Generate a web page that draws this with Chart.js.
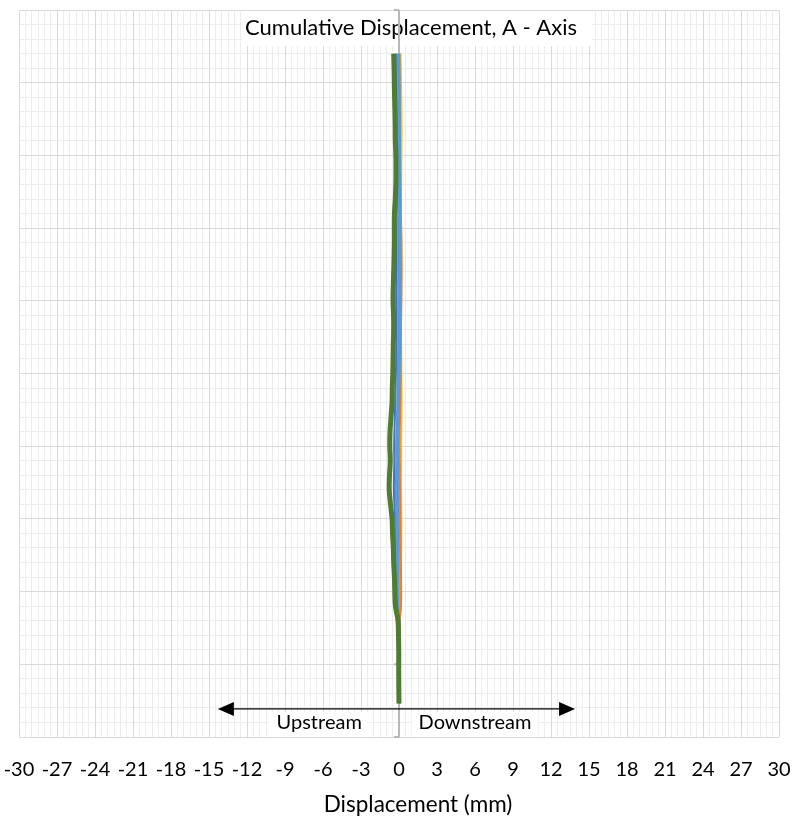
<!DOCTYPE html>
<html>
<head>
<meta charset="utf-8">
<script src="https://cdn.jsdelivr.net/npm/chart.js@4.4.0/dist/chart.umd.min.js"></script>
<style>
  html, body { margin: 0; padding: 0; background: #fff; }
</style>
</head>
<body>
<canvas id="chart" width="801" height="820"></canvas>
<script>
// depth below top of casing (arbitrary units, y axis has no labels)
const DEPTH = [3, 4, 5, 6, 7, 8, 9, 10, 11, 12, 13, 14, 15, 16, 17, 18, 19, 20, 21, 22,
  23, 24, 25, 26, 27, 28, 29, 30, 31, 32, 33, 34, 35, 36, 37, 38, 39, 40, 41, 42,
  43, 44, 45, 46, 47, 47.7];

// cumulative displacement in mm, one array per reading
const READING_GRAY = [0.05, 0.06, 0.07, 0.08, 0.08, 0.09, 0.1, 0.1, 0.11, 0.12,
  0.12, 0.11, 0.1, 0.1, 0.11, 0.12, 0.12, 0.11, 0.1, 0.09,
  0.09, 0.08, 0.07, 0.05, 0.03, 0.01, -0.02, -0.04, -0.03, -0.05,
  -0.06, -0.04, -0.02, 0, 0.02, 0.04, 0.06, 0.08, 0.08, 0.04,
  0.02, 0.01, 0, 0, 0, 0];
const READING_DARKBLUE = [-0.2, -0.18, -0.16, -0.14, -0.12, -0.1, -0.09, -0.08, -0.07, -0.08,
  -0.1, -0.12, -0.14, -0.15, -0.16, -0.18, -0.2, -0.22, -0.2, -0.19,
  -0.2, -0.22, -0.24, -0.27, -0.3, -0.33, -0.36, -0.38, -0.37, -0.39,
  -0.4, -0.36, -0.3, -0.27, -0.24, -0.22, -0.2, -0.18, -0.16, -0.07,
  -0.03, -0.01, -0.01, 0, 0, 0];
const READING_YELLOW = [0.12, 0.14, 0.16, 0.18, 0.19, 0.2, 0.2, 0.19, 0.18, 0.17,
  0.16, 0.16, 0.17, 0.18, 0.18, 0.17, 0.16, 0.15, 0.15, 0.16,
  0.17, 0.18, 0.19, 0.2, 0.2, 0.19, 0.18, 0.17, 0.17, 0.16,
  0.16, 0.17, 0.18, 0.18, 0.17, 0.16, 0.15, 0.14, 0.12, 0.06,
  0.03, 0.01, 0.01, 0, 0, 0];
const READING_ORANGE = [0.02, 0.03, 0.04, 0.05, 0.06, 0.07, 0.08, 0.09, 0.1, 0.11,
  0.13, 0.15, 0.17, 0.19, 0.2, 0.21, 0.2, 0.19, 0.17, 0.16,
  0.15, 0.14, 0.13, 0.12, 0.1, 0.08, 0.06, 0.05, 0.06, 0.07,
  0.08, 0.1, 0.11, 0.12, 0.13, 0.14, 0.16, 0.17, 0.15, 0.06,
  0.02, 0.01, 0.01, 0, 0, 0];
const READING_BLUE = [-0.05, -0.04, -0.03, -0.02, -0.02, -0.01, 0, 0, 0.01, 0.02,
  0.02, 0.01, 0, 0, 0.01, 0.02, 0.02, 0.01, 0, 0,
  0.01, 0, -0.02, -0.04, -0.06, -0.08, -0.12, -0.15, -0.14, -0.16,
  -0.17, -0.15, -0.13, -0.12, -0.12, -0.14, -0.15, -0.14, -0.12, -0.05,
  -0.02, -0.01, -0.01, 0, 0, 0];
const READING_GREEN = [-0.42, -0.39, -0.37, -0.35, -0.32, -0.3, -0.29, -0.25, -0.24, -0.25,
  -0.29, -0.36, -0.37, -0.37, -0.39, -0.42, -0.45, -0.47, -0.43, -0.42,
  -0.45, -0.47, -0.49, -0.53, -0.55, -0.63, -0.71, -0.73, -0.69, -0.75,
  -0.77, -0.67, -0.55, -0.51, -0.45, -0.42, -0.36, -0.33, -0.28, -0.08,
  -0.04, -0.02, -0.02, -0.02, -0.01, 0];

const X_TICKS = [-30, -27, -24, -21, -18, -15, -12, -9, -6, -3, 0, 3, 6, 9, 12, 15, 18, 21, 24, 27, 30];
const TITLE = 'Cumulative Displacement, A - Axis';
const X_TITLE = 'Displacement (mm)';
const X_TITLE_AT = 1.5;
const ARROW_SPAN = [-14.3, 13.9];
const ARROW_DEPTH = 48.07;
const DIRECTION_LABELS = [['Upstream', -6.3], ['Downstream', 6.0]];

const FONT = 'Lato';

const toPoints = vals => vals.map((v, i) => ({ x: v, y: DEPTH[i] }));

// title, arrow, direction labels and the zero axis sit inside the plot area
const overlay = {
  id: 'overlay',
  beforeDatasetsDraw(chart) {
    const { ctx, chartArea: area, scales: { x, y } } = chart;
    const x0 = x.getPixelForValue(0);
    ctx.save();

    ctx.font = '22px ' + FONT;
    const tw = ctx.measureText(TITLE).width;
    const tx = (area.left + area.right) / 2 + 12;
    ctx.fillStyle = '#fff';
    ctx.fillRect(tx - tw / 2 - 3, area.top + 1, tw + 18, 35);
    ctx.fillStyle = '#000';
    ctx.textAlign = 'center';
    ctx.textBaseline = 'alphabetic';
    ctx.fillText(TITLE, tx, area.top + 25);

    ctx.font = '20px ' + FONT;
    const ly = y.getPixelForValue(ARROW_DEPTH);
    DIRECTION_LABELS.forEach(([txt, val]) => {
      const w = ctx.measureText(txt).width;
      const cx = x.getPixelForValue(val);
      ctx.fillStyle = '#fff';
      ctx.fillRect(cx - w / 2 - 7, ly + 3, w + 14, 25);
      ctx.fillStyle = '#000';
      ctx.fillText(txt, cx, ly + 20);
    });

    // axis title, below the tick labels
    ctx.font = '22.5px ' + FONT;
    ctx.textBaseline = 'middle';
    ctx.fillText(X_TITLE, x.getPixelForValue(X_TITLE_AT), x.bottom + 23);

    ctx.strokeStyle = '#b8b8b8';
    ctx.lineWidth = 2;
    ctx.beginPath();
    ctx.moveTo(x0, area.top);
    ctx.lineTo(x0, area.bottom);
    y.ticks.forEach(t => {
      const py = y.getPixelForValue(t.value);
      ctx.moveTo(x0 - 5, py);
      ctx.lineTo(x0, py);
    });
    ctx.stroke();

    const xa = x.getPixelForValue(ARROW_SPAN[0]);
    const xb = x.getPixelForValue(ARROW_SPAN[1]);
    ctx.strokeStyle = '#000';
    ctx.lineWidth = 1.3;
    ctx.beginPath();
    ctx.moveTo(xa + 10, ly);
    ctx.lineTo(xb - 10, ly);
    ctx.stroke();
    ctx.fillStyle = '#000';
    ctx.beginPath();
    ctx.moveTo(xa, ly);
    ctx.lineTo(xa + 16, ly - 7);
    ctx.lineTo(xa + 16, ly + 7);
    ctx.closePath();
    ctx.moveTo(xb, ly);
    ctx.lineTo(xb - 16, ly - 7);
    ctx.lineTo(xb - 16, ly + 7);
    ctx.closePath();
    ctx.fill();

    ctx.restore();
  }
};

const line = (label, vals, color, width) => ({
  label,
  data: toPoints(vals),
  borderColor: color,
  backgroundColor: color,
  borderWidth: width,
  showLine: true,
  pointRadius: 0,
  tension: 0.4,
  fill: false
});

new Chart(document.getElementById('chart'), {
  type: 'scatter',
  data: {
    datasets: [
      line('Reading 6', READING_GREEN, '#4f7b32', 5),
      line('Reading 5', READING_BLUE, '#5b9bd5', 4),
      line('Reading 4', READING_ORANGE, '#ed7d31', 2),
      line('Reading 3', READING_YELLOW, '#ffc000', 2),
      line('Reading 2', READING_DARKBLUE, '#4472c4', 2),
      line('Reading 1', READING_GRAY, '#a5a5a5', 2)
    ]
  },
  options: {
    responsive: false,
    animation: false,
    layout: { padding: { left: 19, right: 22, top: 10, bottom: 38 } },
    plugins: {
      legend: { display: false },
      tooltip: { enabled: false }
    },
    scales: {
      xMinor: {
        type: 'linear', position: 'bottom', min: -30, max: 30,
        ticks: { display: false, stepSize: 0.5, autoSkip: false },
        grid: { color: '#ededed', drawTicks: false, z: -2 },
        border: { display: false }
      },
      x: {
        type: 'linear', position: 'bottom', min: -30, max: 30,
        afterBuildTicks: s => { s.ticks = X_TICKS.map(v => ({ value: v })); },
        ticks: {
          autoSkip: false, maxRotation: 0, padding: 0, color: '#000',
          font: { family: FONT, size: 20 }
        },
        grid: { color: '#d9d9d9', drawTicks: true, tickLength: 21, tickColor: 'rgba(0,0,0,0)', z: -1 },
        border: { display: false }
      },
      yMinor: {
        type: 'linear', position: 'left', reverse: true, min: 0, max: 50,
        ticks: { display: false, stepSize: 1 },
        grid: { color: '#ededed', drawTicks: false, z: -2 },
        border: { display: false }
      },
      y: {
        type: 'linear', position: 'left', reverse: true, min: 0, max: 50,
        ticks: { display: false, stepSize: 5 },
        grid: { color: '#d9d9d9', drawTicks: false, z: -1 },
        border: { display: false }
      }
    }
  },
  plugins: [overlay]
});
</script>
</body>
</html>
